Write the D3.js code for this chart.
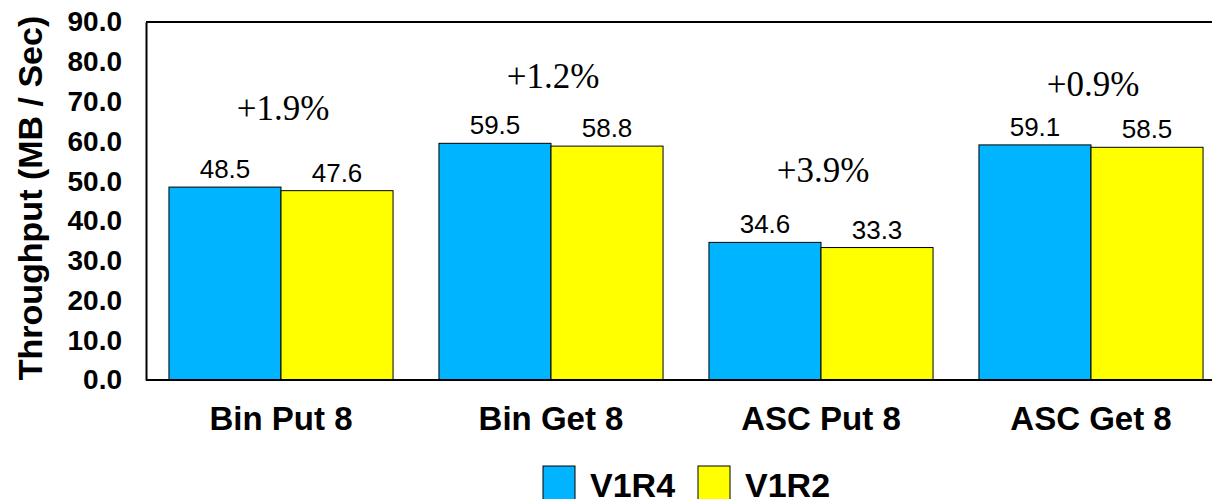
<!DOCTYPE html>
<html lang="en">
<head>
<meta charset="utf-8">
<style>
  body { margin: 0; background: #fff; }
  text { font-family: Arial, "Liberation Sans", sans-serif; }
</style>
<title>Throughput V1R4 vs V1R2</title>
</head>
<body>
<script src="https://cdn.jsdelivr.net/npm/d3@7"></script>
<script>
    // data
    var categories = ["Bin Put 8", "Bin Get 8", "ASC Put 8", "ASC Get 8"];
    var seriesNames = ["V1R4", "V1R2"];
    var v1r4 = [48.5, 59.5, 34.6, 59.1];
    var v1r2 = [47.6, 58.8, 33.3, 58.5];
    var deltaLabels = ["+1.9%", "+1.2%", "+3.9%", "+0.9%"];
    var deltaPos = [65.4, 73.4, 49.8, 71.4];   // where the % notes sit, in axis units
    var yTicks = [0, 10, 20, 30, 40, 50, 60, 70, 80, 90];
    var colors = ["#00b4ff", "#ffff00"];

    var w = 1212, h = 499;
    var margin = {top: 22, right: -14, bottom: 119, left: 146};

    var svg = d3.select("body").append("svg").attr("width", w).attr("height", h);

    var x = d3.scaleBand().domain(categories)
      .range([margin.left, w - margin.right])
      .paddingInner(0.17).paddingOuter(0.085);
    var xs = d3.scaleBand().domain(seriesNames).range([0, x.bandwidth()]);
    var y = d3.scaleLinear().domain([0, 90]).range([h - margin.bottom, margin.top]);

    var table = categories.map(function(c, i) {
      return {cat: c, vals: [{s: "V1R4", v: v1r4[i]}, {s: "V1R2", v: v1r2[i]}]};
    });

    // bars
    var groups = svg.append("g").selectAll("g").data(table).enter().append("g")
      .attr("transform", function(d) { return "translate(" + x(d.cat) + ",0)"; });

    groups.selectAll("rect").data(function(d) { return d.vals; }).enter().append("rect")
      .attr("x", function(d) { return xs(d.s); })
      .attr("y", function(d) { return y(d.v); })
      .attr("width", xs.bandwidth())
      .attr("height", function(d) { return y(0) - y(d.v); })
      .attr("fill", function(d, i) { return colors[i]; })
      .attr("stroke", "#000").attr("stroke-width", 1);

    groups.selectAll("text.val").data(function(d) { return d.vals; }).enter().append("text")
      .attr("class", "val")
      .attr("x", function(d) { return xs(d.s) + xs.bandwidth() / 2; })
      .attr("y", function(d) { return y(d.v) - 9; })
      .attr("text-anchor", "middle")
      .style("font-size", "26px")
      .text(function(d) { return d.v.toFixed(1); });

    // % difference notes
    svg.append("g").selectAll("text").data(deltaLabels).enter().append("text")
      .attr("x", function(d, i) { return x(categories[i]) + x.bandwidth() / 2 + 2; })
      .attr("y", function(d, i) { return y(deltaPos[i]); })
      .attr("text-anchor", "middle")
      .style("font-family", "'Liberation Serif', 'Times New Roman', serif")
      .style("font-size", "35px")
      .text(function(d) { return d; });

    // frame lines
    svg.append("line").attr("x1", margin.left).attr("x2", w).attr("y1", y(90)).attr("y2", y(90))
      .attr("stroke", "#000").attr("stroke-width", 2);
    svg.append("line").attr("x1", margin.left).attr("x2", w).attr("y1", y(0)).attr("y2", y(0))
      .attr("stroke", "#000").attr("stroke-width", 2);

    // y axis
    var yAxis = svg.append("g").attr("transform", "translate(" + margin.left + ",0)")
      .call(d3.axisLeft(y).tickValues(yTicks).tickSize(0).tickPadding(24)
        .tickFormat(function(d) { return d.toFixed(1); }));
    yAxis.select(".domain").attr("stroke", "#000").attr("stroke-width", 2);
    yAxis.selectAll("text").attr("fill", "#000")
      .style("font-family", "Arial, 'Liberation Sans', sans-serif")
      .style("font-size", "28px").style("font-weight", "bold");

    // x axis labels
    var xAxis = svg.append("g").attr("transform", "translate(0," + y(0) + ")")
      .call(d3.axisBottom(x).tickSize(0).tickPadding(27));
    xAxis.select(".domain").remove();
    xAxis.selectAll("text").attr("fill", "#000")
      .style("font-family", "Arial, 'Liberation Sans', sans-serif")
      .style("font-size", "33px").style("font-weight", "bold");

    // y axis title
    svg.append("text").text("Throughput (MB / Sec)")
      .attr("transform", "translate(42,198) rotate(-90)")
      .attr("text-anchor", "middle")
      .style("font-size", "34px").style("font-weight", "bold");

    // legend
    var legend = svg.append("g").selectAll("g").data(seriesNames).enter().append("g")
      .attr("transform", function(d, i) { return "translate(" + (543 + i * 155) + ",466)"; });
    legend.append("rect").attr("width", 32).attr("height", 34)
      .attr("fill", function(d, i) { return colors[i]; })
      .attr("stroke", "#000").attr("stroke-width", 1);
    legend.append("text").attr("x", 47).attr("y", 31)
      .style("font-size", "34px").style("font-weight", "bold")
      .text(function(d) { return d; });
</script>
</body>
</html>
